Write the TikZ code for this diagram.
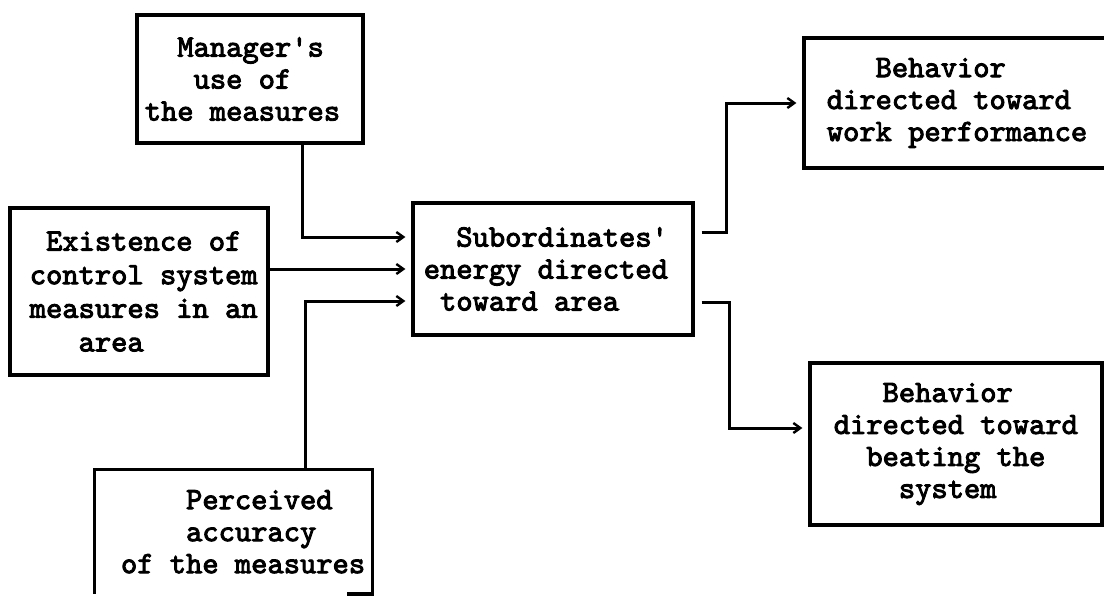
\documentclass[tikz,border=0pt]{standalone}
\usepackage{fontspec}
% heavy typewriter face
\newfontfamily\tw{lmmono10-regular.otf}[FakeBold=3]
\usetikzlibrary{arrows.meta,calc}

% leading blanks in the typewritten labels, counted in characters
\newcommand\pad[1]{\hspace*{#1\fontcharwd\font`M}}

\tikzset{
  ink/.style={line width=1.6pt, line join=miter},
  box/.style={ink, draw, rectangle, inner sep=0pt},
  txt/.style={inner sep=0pt, anchor=west, align=left,
    font=\tw\fontsize{15.5}{16}\selectfont},
  conn/.style={line width=1.5pt,
    -{Straight Barb[length=3.5pt,width=5pt,line width=1.2pt]},
    shorten >=3pt},
  feed/.style={line width=1.5pt, shorten <=3.5pt}
}

\begin{document}
\begin{tikzpicture}[x=0.5pt,y=-0.5pt]
\clip (0,0) rectangle (1104,595);
\fill[white] (0,0) rectangle (1104,595);

% input boxes
\node[box, minimum width=113pt, minimum height=64pt] (m1) at (250,79) {};
\node[txt] (m1t) at ([xshift=4.5pt]m1.west)
  {\pad{2}Manager\char"27 s\\\pad{3}use of\\the measures};

\node[box, minimum width=129pt, minimum height=83.5pt] (e) at (139,291.5) {};
\node[txt, font=\tw\fontsize{15.5}{16.8}\selectfont] (et)
  at ([xshift=10.5pt]e.west)
  {\pad{1}Existence of\\control system\\measures in an\\\pad{3}area};

% lower box runs off the sheet: only part of its bottom edge shows
\node[inner sep=0pt, minimum width=138.5pt, minimum height=61.75pt] (p)
  at (233.5,531.75) {};
\draw[ink] (p.south west) -- (p.north west) -- (p.north east)
  -- (p.south east) -- ([xshift=-12.5pt]p.south east);
\node[txt] (pt) at ([xshift=13pt]p.west)
  {\pad{4}Perceived\\\pad{4}accuracy\\of the measures};

% central box
\node[box, minimum width=140pt, minimum height=66pt] (s) at (553,269) {};
\node[txt] (st) at ([xshift=6pt]s.west)
  {\pad{2}Subordinates\char"27\\energy directed\\\pad{1}toward area};

% outcome boxes
\node[box, minimum width=154pt, minimum height=65pt] (b1) at (958,103) {};
\node[txt] (b1t) at ([xshift=12pt]b1.west)
  {\pad{3}Behavior\\directed toward\\work performance};

\node[box, minimum width=146pt, minimum height=81pt] (b2) at (956,444) {};
\node[txt] (b2t) at ([xshift=12.5pt]b2.west)
  {\pad{3}Behavior\\directed toward\\\pad{2}beating the\\\pad{4}system};

% connectors into the central box
\draw[conn] ([xshift=26pt]m1.south) |- ([yshift=16pt]s.west);
\draw[conn] (e.east |- s.west) -- (s.west);
\draw[conn] ([xshift=35.75pt]p.north) |- ([yshift=-16pt]s.west);

% connectors out of the central box
\draw[conn, feed] ([yshift=18.5pt]s.east) -- ++(16pt,0) |- (b1.west);
\draw[conn, feed] ([yshift=-16.5pt]s.east) -- ++(17.5pt,0)
  |- ([yshift=8pt]b2.west);
\end{tikzpicture}
\end{document}
